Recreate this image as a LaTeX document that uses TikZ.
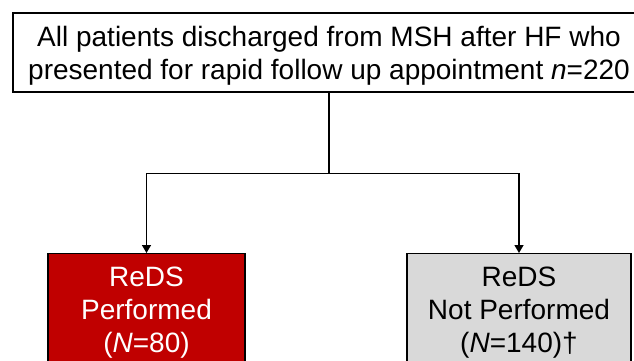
\documentclass[tikz,border=0pt]{standalone}
\usepackage{fontspec}
\setmainfont{Liberation Sans}
\usetikzlibrary{calc,arrows.meta}

\begin{document}
\begin{tikzpicture}[x=1pt,y=-1pt,line width=1.4pt,
    font=\fontsize{28}{33}\selectfont]
    \definecolor{redds}{HTML}{C00000}
    \definecolor{greyds}{HTML}{D9D9D9}
    \tikzset{
        box/.style={draw=black,align=center,inner sep=0pt},
        arm/.style={-{Triangle[length=8pt,width=9pt]},line width=1.4pt}
    }
    \useasboundingbox (0,0) rectangle (634,360);

% top box
    \node[box,minimum width=632,minimum height=79] (all) at (329,52.5)
        {\rule{0pt}{25.9pt}All patients discharged from MSH after HF who\\
         presented for rapid follow up appointment \textit{n}=220};
    % the two arms
    \node[box,fill=redds,text=white,anchor=north,minimum width=197,
        inner ysep=13.5pt] (perf) at (146.5,253)
        {ReDS\\Performed\\(\textit{N}=80)};
    \node[box,fill=greyds,anchor=north,minimum width=224,
        inner ysep=13.5pt] (noperf) at (519,253)
        {ReDS\\Not Performed\\(\textit{N}=140)\dag};
    % connectors
    \coordinate (fork) at ($(all.south)+(0,81)$);
    \draw (all.south) -- (fork);
    \draw[arm] (fork) -| (perf.north);
    \draw[arm] (fork) -| (noperf.north);
\end{tikzpicture}
\end{document}
